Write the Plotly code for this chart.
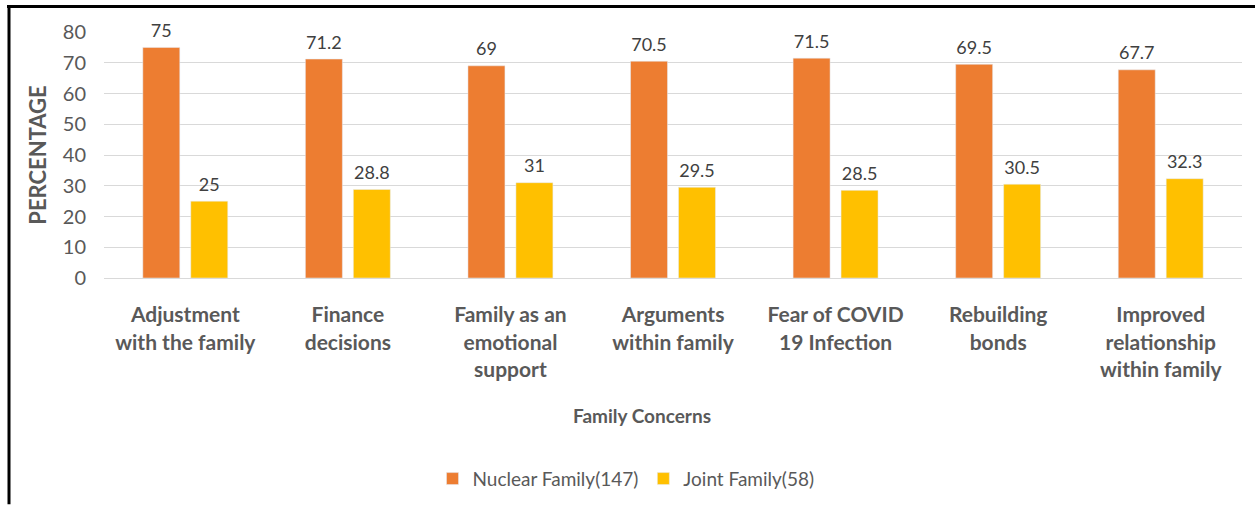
import plotly.graph_objects as go

# Survey results: share of respondents (%) by family type
categories = [
    "Adjustment<br>with the family",
    "Finance<br>decisions",
    "Family as an<br>emotional<br>support",
    "Arguments<br>within family",
    "Fear of COVID<br>19 Infection",
    "Rebuilding<br>bonds",
    "Improved<br>relationship<br>within family",
]
nuclear = [75, 71.2, 69, 70.5, 71.5, 69.5, 67.7]
joint = [25, 28.8, 31, 29.5, 28.5, 30.5, 32.3]
series_names = ["Nuclear Family(147)", "Joint Family(58)"]
y_ticks = [0, 10, 20, 30, 40, 50, 60, 70, 80]

ORANGE = "#ED7D31"
YELLOW = "#FFC000"
TEXT = "#595959"
LABEL = "#404040"
FONT = "Lato"

W, H = 1257, 510
M = dict(l=104, r=15, t=32, b=228)

fig = go.Figure()
for name, vals, col, grp in [(series_names[0], nuclear, ORANGE, "a"),
                              (series_names[1], joint, YELLOW, "b")]:
    fig.add_trace(go.Bar(
        x=categories, y=vals, name=name, marker_color=col,
        offsetgroup=grp,
    ))
# value labels above each bar
for vals, grp in [(nuclear, "a"), (joint, "b")]:
    fig.add_trace(go.Scatter(
        x=categories, y=vals, mode="markers+text",
        text=[f"{v:g}" for v in vals], textposition="top center",
        textfont=dict(family=FONT, size=18, color=LABEL),
        marker=dict(size=8, opacity=0),
        offsetgroup=grp, showlegend=False, hoverinfo="skip",
        cliponaxis=False,
    ))

# helpers converting pixel positions to paper coordinates
pw = W - M["l"] - M["r"]
ph = H - M["t"] - M["b"]
def px(xp):
    return (xp - M["l"]) / pw
def py(yp):
    return (H - M["b"] - yp) / ph

# frame lines along the top and left edges of the figure
fig.add_shape(type="line", xref="paper", yref="paper",
              x0=px(7), x1=px(1255), y0=py(6), y1=py(6),
              line=dict(color="black", width=3))
fig.add_shape(type="line", xref="paper", yref="paper",
              x0=px(9), x1=px(9), y0=py(5), y1=py(512),
              line=dict(color="black", width=3))

# x-axis title
fig.add_annotation(text="Family Concerns", xref="paper", yref="paper",
                   x=px(642), y=py(422), xanchor="center", yanchor="middle",
                   showarrow=False,
                   font=dict(family=FONT, size=19, color=TEXT, weight="bold"))

fig.update_layout(
    width=W, height=H, margin=M,
    paper_bgcolor="white", plot_bgcolor="white",
    barmode="group", bargap=0.41, bargroupgap=0.229,
    scattermode="group", scattergap=0.41,
    font=dict(family=FONT, color=TEXT),
    showlegend=True,
    legend=dict(orientation="h", x=px(626), xanchor="center", y=py(486), yanchor="middle",
                font=dict(family=FONT, size=19, color=TEXT),
                itemwidth=30, traceorder="normal"),
    xaxis=dict(
        tickfont=dict(family=FONT, size=21, color=TEXT, weight="bold"),
        ticks="outside", ticklen=18, tickcolor="rgba(0,0,0,0)",
        showgrid=False, showline=False, automargin=False,
    ),
    yaxis=dict(
        range=[0, 80], tickvals=y_ticks,
        tickfont=dict(family=FONT, size=20, color=TEXT),
        ticks="outside", ticklen=13, tickcolor="rgba(0,0,0,0)",
        showgrid=True, gridcolor="#D9D9D9", gridwidth=1,
        zeroline=True, zerolinecolor="#D9D9D9", zerolinewidth=1,
        showline=False, automargin=False,
        title=dict(text="PERCENTAGE", font=dict(family=FONT, size=22, color=TEXT, weight="bold"),
                   standoff=10),
    ),
)

fig.write_html("out.html")
